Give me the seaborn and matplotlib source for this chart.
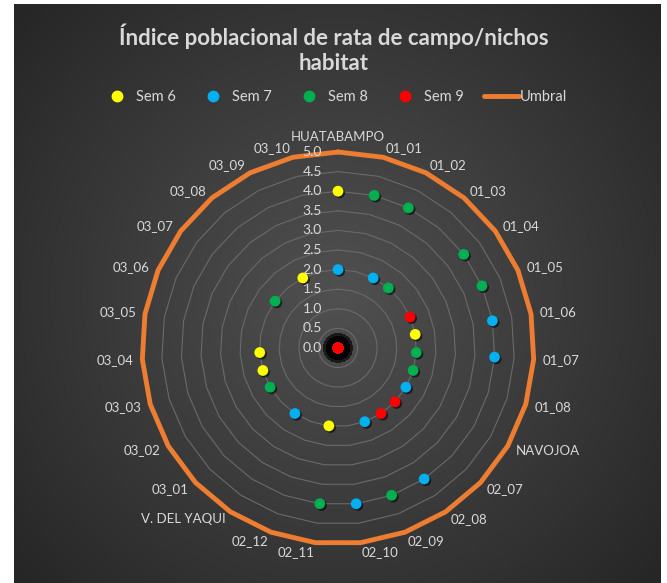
import numpy as np
import pandas as pd
import matplotlib
matplotlib.use('Agg')
import matplotlib.pyplot as plt
import seaborn as sns
from matplotlib.lines import Line2D
from matplotlib import patheffects as pe

# Datos
categorias = ['HUATABAMPO', '01_01', '01_02', '01_03', '01_04', '01_05', '01_06',
              '01_07', '01_08', 'NAVOJOA', '02_07', '02_08', '02_09', '02_10',
              '02_11', '02_12', 'V. DEL YAQUI', '03_01', '03_02', '03_03', '03_04',
              '03_05', '03_06', '03_07', '03_08', '03_09', '03_10']
sem6 = [4, 0, 0, 0, 0, 0, 2, 0, 0, 0, 0, 0, 0, 0, 2, 0, 0, 0, 0, 2, 2, 0, 0, 0, 0, 2, 0]
sem7 = [2, 0, 2, 0, 0, 0, 4, 4, 0, 2, 0, 4, 2, 4, 0, 0, 2, 0, 0, 0, 0, 0, 0, 0, 0, 0, 0]
sem8 = [0, 4, 4, 2, 4, 4, 0, 2, 2, 0, 0, 0, 4, 0, 4, 0, 0, 0, 2, 0, 0, 0, 0, 2, 0, 0, 0]
sem9 = [0, 0, 0, 0, 0, 2, 0, 0, 0, 0, 2, 2, 0, 0, 0, 0, 0, 0, 0, 0, 0, 0, 0, 0, 0, 0, 0]
umbral = [5.0] * len(categorias)
series = {'Sem 6': sem6, 'Sem 7': sem7, 'Sem 8': sem8, 'Sem 9': sem9}
colores = {'Sem 6': '#FFFF00', 'Sem 7': '#00B0F0', 'Sem 8': '#00B050', 'Sem 9': '#FF0000'}
naranja = '#ED7D31'
texto = '#d9d9d9'

n = len(categorias)
theta = np.arange(n) * 2 * np.pi / n
df = pd.concat([pd.DataFrame({'serie': k, 'theta': theta, 'valor': v})
                for k, v in series.items()], ignore_index=True)

sns.set_theme(style='white')
plt.rcParams['font.family'] = ['Lato', 'DejaVu Sans']

W, H = 667, 583
fig = plt.figure(figsize=(W / 100, H / 100), dpi=100, facecolor='white')

# fondo con degradado radial
bg = fig.add_axes([14 / W, 0, (661 - 14) / W, (583 - 4) / H])
yy, xx = np.mgrid[0:579, 0:647]
d = np.hypot((xx - 324) / 430, (yy - 290) / 430)
bg.imshow(np.clip(d, 0, 1), cmap=matplotlib.colors.LinearSegmentedColormap.from_list(
    'g', ['#505050', '#262626']), vmin=0, vmax=1, aspect='auto')
bg.axis('off')

cx, cy, R = 338, 348, 196
ax = fig.add_axes([(cx - R) / W, (H - cy - R) / H, 2 * R / W, 2 * R / H], projection='polar')
ax.set_facecolor('none')
ax.set_theta_zero_location('N')
ax.set_theta_direction(-1)
ax.grid(False)
ax.spines['polar'].set_visible(False)

th_c = np.append(theta, theta[0])
for lv in np.arange(0.5, 5.0, 0.5):
    ax.plot(th_c, [lv] * (n + 1), color='#6a6a6a', lw=0.8, zorder=1)
ax.plot(th_c, umbral + umbral[:1], color=naranja, lw=3.5, clip_on=False, zorder=2)

for v in np.arange(0, 5.01, 0.5):
    ax.annotate(f'{v:.1f}', xy=(0, v), xytext=(-11.5, 0), textcoords='offset points',
                ha='right', va='center', color=texto, fontsize=10)

for t, lab in zip(theta, categorias):
    s = np.sin(t)
    ha = 'left' if s > 0.01 else ('right' if s < -0.01 else 'center')
    va = 'bottom' if abs(s) < 0.01 and np.cos(t) > 0 else 'center'
    ax.text(t, 5.23, lab, ha=ha, va=va, color=texto, fontsize=9.5, clip_on=False)

sombra = [pe.SimplePatchShadow(offset=(1.2, -1.2), shadow_rgbFace='black', alpha=0.6), pe.Normal()]
halo = [pe.Stroke(linewidth=13, foreground='#1a1a1a', alpha=0.5),
        pe.Stroke(linewidth=9, foreground='black'), pe.Normal()]

cero = df[df.valor == 0]
sns.scatterplot(data=cero, x='theta', y='valor', hue='serie', palette=colores, s=60,
                linewidth=0, legend=False, ax=ax, zorder=3, clip_on=False)
ax.collections[-1].set_path_effects(halo)
pos = df[df.valor > 0]
sns.scatterplot(data=pos, x='theta', y='valor', hue='serie', palette=colores, s=60,
                linewidth=0, legend=False, ax=ax, zorder=4, clip_on=False)
ax.collections[-1].set_path_effects(sombra)
ax.set_xlabel('')
ax.set_ylabel('')
ax.set_xticks([])
ax.set_yticks([])
ax.set_ylim(0, 5)

fig.text(0.5, 1 - 49 / H, 'Índice poblacional de rata de campo/nichos\nhabitat',
         ha='center', va='center', color=texto, fontsize=16, fontweight='bold', linespacing=1.25)

handles = [Line2D([], [], marker='o', ls='none', color=colores[k], markersize=7.5) for k in series]
handles.append(Line2D([], [], color=naranja, lw=3.5))
fig.legend(handles, list(series) + ['Umbral'], loc='center', bbox_to_anchor=(0.5, 1 - 97 / H),
           ncol=5, frameon=False, labelcolor=texto, fontsize=10.5, handlelength=2.4,
           handletextpad=0.1, columnspacing=1.35)

fig.savefig('out.png', dpi=100, facecolor='white')
